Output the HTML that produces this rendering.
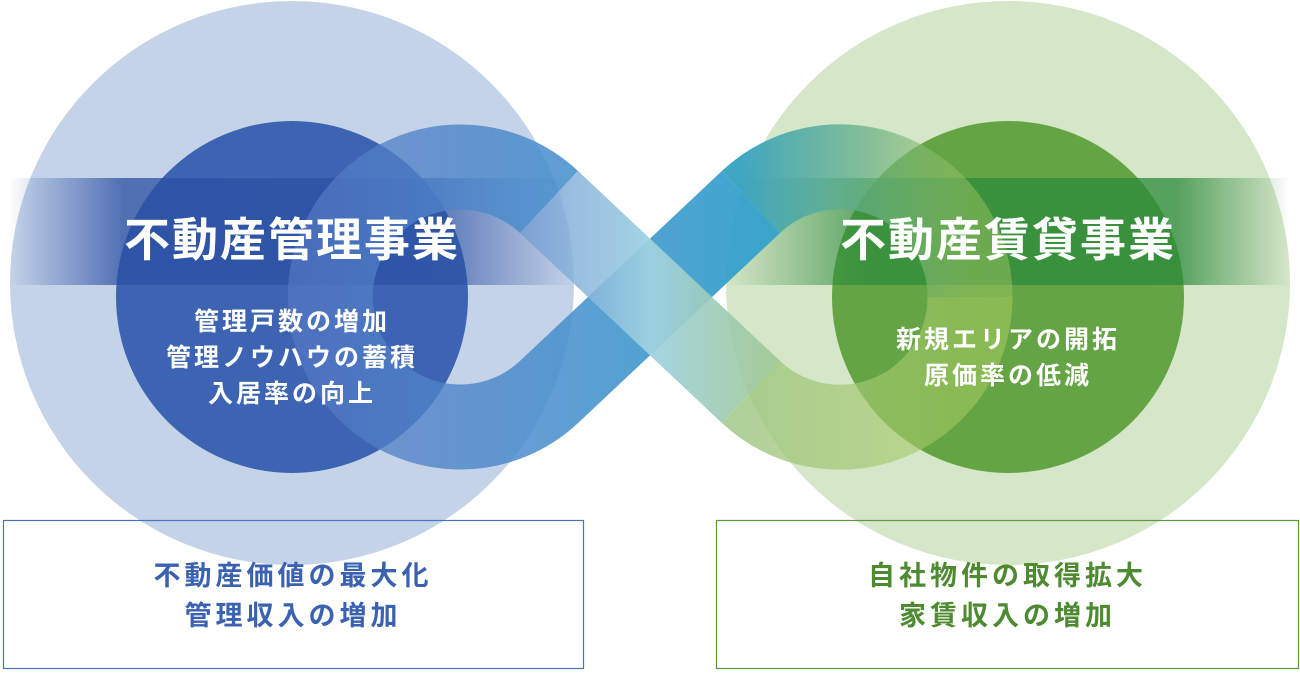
<!DOCTYPE html>
<html><head><meta charset="utf-8"><style>
html,body{margin:0;padding:0;background:#fff;}
body{width:1300px;height:674px;position:relative;overflow:hidden;font-family:"Liberation Sans","Noto Sans CJK JP",sans-serif;}
.t{position:absolute;text-align:center;font-weight:bold;white-space:nowrap;}
</style></head><body>
<svg width="1300" height="674" style="position:absolute;left:0;top:0">
<defs>
<linearGradient id="bandL" x1="0" x2="1"><stop offset="0" stop-color="#2a4fa3" stop-opacity="0"/><stop offset="0.2" stop-color="#2a4fa3" stop-opacity="0.75"/><stop offset="0.75" stop-color="#2a4fa3" stop-opacity="0.7"/><stop offset="1" stop-color="#2a4fa3" stop-opacity="0"/></linearGradient>
<linearGradient id="bandR" x1="0" x2="1"><stop offset="0" stop-color="#2a8a3a" stop-opacity="0"/><stop offset="0.25" stop-color="#2a8a3a" stop-opacity="0.7"/><stop offset="0.8" stop-color="#2a8a3a" stop-opacity="0.75"/><stop offset="1" stop-color="#2a8a3a" stop-opacity="0"/></linearGradient>
<linearGradient id="ribL" gradientUnits="userSpaceOnUse" x1="300" y1="0" x2="750" y2="0"><stop offset="0" stop-color="#5577c4" stop-opacity="0.7"/><stop offset="0.5" stop-color="#4a8ccc" stop-opacity="0.85"/><stop offset="1" stop-color="#35a2cc" stop-opacity="0.95"/></linearGradient>
<linearGradient id="ribRT" gradientUnits="userSpaceOnUse" x1="740" y1="0" x2="970" y2="0"><stop offset="0" stop-color="#35a2c0" stop-opacity="0.95"/><stop offset="0.5" stop-color="#5fae8a" stop-opacity="0.75"/><stop offset="1" stop-color="#9cc460" stop-opacity="0.5"/></linearGradient>
<linearGradient id="ribRB" gradientUnits="userSpaceOnUse" x1="740" y1="0" x2="970" y2="0"><stop offset="0" stop-color="#9cc480" stop-opacity="0.8"/><stop offset="1" stop-color="#a8cc60" stop-opacity="0.55"/></linearGradient>
<linearGradient id="rib2" gradientUnits="userSpaceOnUse" x1="500" y1="0" x2="800" y2="0"><stop offset="0" stop-color="#6a90d0" stop-opacity="0.7"/><stop offset="0.5" stop-color="#9fd2e2" stop-opacity="0.95"/><stop offset="1" stop-color="#9cc480" stop-opacity="0.85"/></linearGradient>
</defs>
<circle cx="292" cy="283" r="282" fill="#c5d3e8"/>
<circle cx="1008" cy="283" r="282" fill="#d6e6c9"/>
<circle cx="292" cy="297" r="176" fill="#3c64b2"/>
<circle cx="1008" cy="297" r="176" fill="#64a445"/>
<rect x="10" y="178" width="565" height="107" fill="url(#bandL)"/>
<rect x="725" y="178" width="565" height="107" fill="url(#bandR)"/>
<path d="M751 202 L549 392 A130 130 0 1 1 549 202" fill="none" stroke="url(#ribL)" stroke-width="85"/>
<path d="M751 202 A130 130 0 0 1 970 297" fill="none" stroke="url(#ribRT)" stroke-width="85"/>
<path d="M970 297 A130 130 0 0 1 751 392" fill="none" stroke="url(#ribRB)" stroke-width="85"/>
<path d="M549 202 L751 392" fill="none" stroke="url(#rib2)" stroke-width="85"/>
<rect x="3.5" y="520.5" width="580" height="148" fill="none" stroke="#4a72c0" stroke-width="1.2"/>
<rect x="716.5" y="520.5" width="582" height="148" fill="none" stroke="#5a9a40" stroke-width="1.2"/>
</svg>
<div class="t" style="left:42px;width:500px;top:204px;font-size:46px;letter-spacing:2px;color:#fff;">不動産管理事業</div>
<div class="t" style="left:758px;width:500px;top:204px;font-size:46px;letter-spacing:2px;color:#fff;">不動産賃貸事業</div>
<div class="t" style="left:92px;width:400px;top:304px;font-size:25px;letter-spacing:3px;line-height:36px;color:#fff;">管理戸数の増加<br>管理ノウハウの蓄積<br>入居率の向上</div>
<div class="t" style="left:808px;width:400px;top:322px;font-size:25px;letter-spacing:3px;line-height:36px;color:#fff;">新規エリアの開拓<br>原価率の低減</div>
<div class="t" style="left:3px;width:580px;top:556px;font-size:27px;letter-spacing:4px;line-height:40px;color:#3a62b0;">不動産価値の最大化<br>管理収入の増加</div>
<div class="t" style="left:716px;width:583px;top:556px;font-size:27px;letter-spacing:4px;line-height:40px;color:#4e8a30;">自社物件の取得拡大<br>家賃収入の増加</div>
</body></html>
